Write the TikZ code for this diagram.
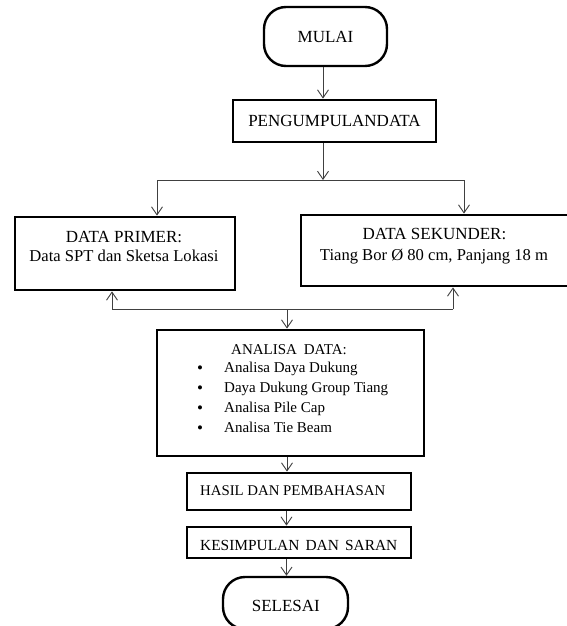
\documentclass[tikz,border=0pt]{standalone}
\usepackage{fontspec}
\setmainfont{Liberation Serif}
\usetikzlibrary{arrows.meta,calc}
\newcommand\fsBig{\fontsize{17}{20}\selectfont}
\newcommand\fsMid{\fontsize{16.6}{20}\selectfont}
\newcommand\fsSmall{\fontsize{15}{18}\selectfont}
\begin{document}
\begin{tikzpicture}[x=1pt,y=-1pt,
  box/.style={draw=black, line width=2.8pt, rectangle, inner sep=0pt},
  term/.style={draw=black, line width=2.4pt, rectangle, rounded corners=22pt, inner sep=0pt, font=\fsBig},
  conn/.style={draw=black!75, line width=0.9pt},
  arr/.style={conn, -{Straight Barb[length=8pt,width=11pt,line width=0.9pt]}},
  lbl/.style={inner sep=0pt, anchor=base, text=black},
  item/.style={inner sep=0pt, anchor=base west, text=black, font=\fsSmall},
  dot/.style={inner sep=0pt, anchor=base, text=black, font=\fontsize{17}{18}\selectfont}]
\useasboundingbox (0,0) rectangle (567,626);
\clip (0,0) rectangle (567,626);
\fill[white] (0,0) rectangle (567,626);

% terminals and boxes
\node[term, minimum width=123pt, minimum height=59pt] (mulai) at (325.5,36.5) {MULAI};
\node[box, minimum width=203pt, minimum height=42pt, font=\fsBig] (peng) at (334.5,121) {PENGUMPULANDATA};

\node[box, minimum width=220pt, minimum height=73pt] (primer) at (125,253.5) {};
\node[lbl, font=\fsBig] (primer1) at (124,242.5) {DATA PRIMER:};
\node[lbl, font=\fsMid] (primer2) at (124,261.5) {Data SPT dan Sketsa Lokasi};

\node[box, minimum width=268pt, minimum height=71pt] (sekunder) at (435,250.5) {};
\node[lbl, font=\fsBig] (sek1) at (434.5,239) {DATA SEKUNDER:};
\node[lbl, font=\fsMid] (sek2) at (434,260) {Tiang Bor Ø 80 cm, Panjang 18 m};

\node[box, minimum width=267pt, minimum height=126pt] (analisa) at (290.5,393) {};
\node[lbl, font=\fsSmall] (an0) at (289,354) {ANALISA\hspace{0.45em}DATA:};
\node[dot] (b1) at (200,373.5) {\textbullet};
\node[dot] (b2) at (200,393.5) {\textbullet};
\node[dot] (b3) at (200,413.3) {\textbullet};
\node[dot] (b4) at (200,433.1) {\textbullet};
\node[item] (an1) at (224,372.7) {Analisa Daya Dukung};
\node[item] (an2) at (224,392.7) {Daya Dukung Group Tiang};
\node[item] (an3) at (224,412.5) {Analisa Pile Cap};
\node[item] (an4) at (224,432.3) {Analisa Tie Beam};

\node[box, minimum width=224pt, minimum height=37pt] (hasil) at (299,491.5) {};
\node[lbl, anchor=base west, font=\fontsize{14.8}{18}\selectfont] (hasilt) at (200,495.7) {HASIL DAN PEMBAHASAN};

\node[box, minimum width=224pt, minimum height=31pt] (kes) at (299,542.5) {};
\node[lbl, anchor=base west, font=\fontsize{15.4}{18}\selectfont] (kest) at (200,550) {KESIMPULAN\hspace{0.4em}DAN\hspace{0.4em}SARAN};

\node[term, minimum width=125pt, minimum height=52pt] (selesai) at (285.5,603) {};
\node[lbl, font=\fsBig] (selesait) at (285.8,611.7) {SELESAI};

% connector coordinates
\coordinate (sT) at (323,0);
\coordinate (split) at (323,180);
\coordinate (splitL) at (157,180);
\coordinate (splitR) at (464,180);
\coordinate (joinL) at (112,309);
\coordinate (joinR) at (453,309);
\coordinate (join) at (287,309);
\coordinate (sB) at (287,0);
\coordinate (sC) at (286.5,0);

% connectors
\draw[arr] (mulai.south -| sT) -- (peng.north -| sT);
\draw[arr] (peng.south -| sT) -- (split);
\draw[conn] (splitL) -- (splitR);
\draw[arr] (splitL) -- (splitL |- primer.north);
\draw[arr] (splitR) -- (splitR |- sekunder.north);
\draw[conn] (joinL) -- (joinR);
\draw[arr] (joinL) -- (joinL |- primer.south);
\draw[arr] (joinR) -- (joinR |- sekunder.south);
\draw[arr] (join) -- (join |- analisa.north);
\draw[arr] (analisa.south -| sB) -- (hasil.north -| sB);
\draw[arr] (hasil.south -| sC) -- (kes.north -| sC);
\draw[arr] (kes.south -| sC) -- (selesai.north -| sC);
\end{tikzpicture}
\end{document}
